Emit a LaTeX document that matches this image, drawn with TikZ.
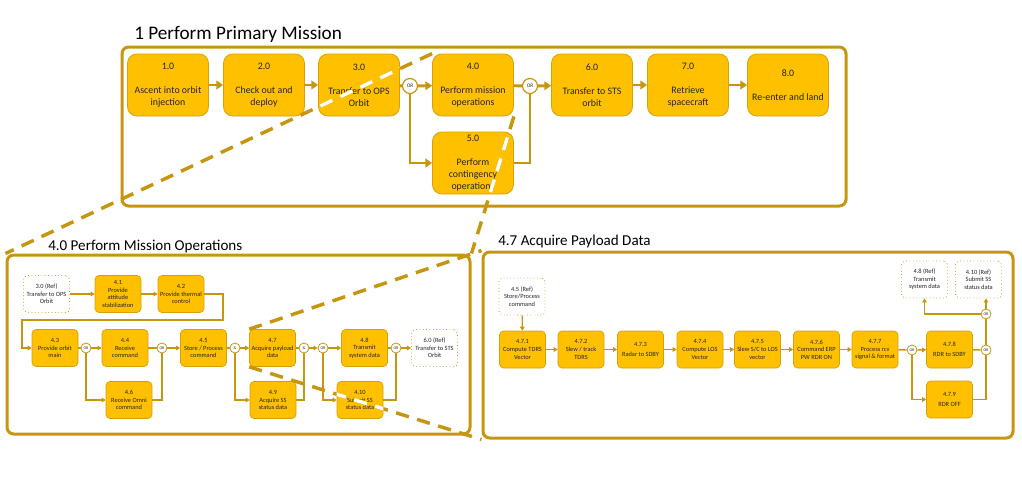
\documentclass[tikz,border=0pt]{standalone}
\usepackage{fontspec}
\setmainfont{Carlito}
\usetikzlibrary{arrows.meta,calc}
\definecolor{boxfill}{RGB}{255,192,0}
\definecolor{boxline}{RGB}{214,160,10}
\definecolor{goldline}{RGB}{199,150,16}
\definecolor{txt}{RGB}{38,38,38}
\begin{document}
\begin{tikzpicture}[x=0.75pt,y=-0.75pt,
  frm/.style={draw=goldline, line width=2.25pt, rounded corners=5pt, inner sep=0pt, minimum width=#1},
  tb/.style={draw=boxline, line width=0.6pt, fill=boxfill, rounded corners=7pt, minimum width=60.75pt, minimum height=46.5pt, align=center, inner sep=1pt, text=txt, font=\fontsize{7.4}{9}\selectfont},
  lb/.style={draw=boxline, line width=0.5pt, fill=boxfill, rounded corners=3pt, minimum width=34.5pt, minimum height=27.75pt, align=center, inner sep=0.5pt, text=txt, font=\fontsize{4.8}{5.7}\selectfont},
  rb/.style={lb, fill=white, draw=goldline, dotted, line width=0.7pt},
  tc/.style={circle, draw=goldline, fill=white, line width=0.9pt, minimum size=11.25pt, inner sep=0pt, text=txt, font=\fontsize{4}{4}\selectfont},
  lc/.style={circle, draw=goldline, fill=white, line width=0.6pt, minimum size=7.5pt, inner sep=0pt, text=txt, font=\fontsize{3}{3}\selectfont},
  ta/.style={draw=goldline, line width=2.2pt, -{Triangle[length=5pt,width=6.5pt]}},
  tl/.style={draw=goldline, line width=2.2pt},
  la/.style={draw=goldline, line width=1pt, -{Triangle[length=3pt,width=3.5pt]}},
  ll/.style={draw=goldline, line width=1pt},
  dl/.style={draw=goldline, line width=2.6pt, dash pattern=on 10pt off 6.5pt},
  dw/.style={dl, draw=white},
  ttl/.style={anchor=base west, inner sep=0pt, text=black}
]
\useasboundingbox (0,0) rectangle (1022,479);

% titles
\node[ttl, font=\fontsize{14.4}{16}\selectfont] (t1) at (134,39) {1 Perform Primary Mission};
\node[ttl, font=\fontsize{11.3}{13}\selectfont] (t2) at (48,250) {4.0 Perform Mission Operations};
\node[ttl, font=\fontsize{11.3}{13}\selectfont] (t3) at (498,245) {4.7 Acquire Payload Data};

% frames
\node[frm=543pt, minimum height=119.25pt] (F1) at (484,126.5) {};
\node[frm=347.25pt, minimum height=134.25pt] (F2) at (238.5,344.5) {};
\node[frm=397.5pt, minimum height=139.5pt] (F3) at (748,345) {};

% ---------- top level ----------
\node[tb] (n10) at (168,85) {1.0\\[9pt]Ascent into orbit\\injection};
\node[tb] (n20) at (264,85) {2.0\\[9pt]Check out and\\deploy};
\node[tb] (n30) at (359,85) {3.0\\[9pt]Transfer to OPS\\Orbit};
\node[tc] (o1) at (410,86) {OR};
\node[tb] (n40) at (473,85) {4.0\\[9pt]Perform mission\\operations};
\node[tc] (o2) at (530,86) {OR};
\node[tb] (n60) at (592,85) {6.0\\[9pt]Transfer to STS\\orbit};
\node[tb] (n70) at (688,85) {7.0\\[9pt]Retrieve\\spacecraft};
\node[tb] (n80) at (788,85) {8.0\\[9pt]Re-enter and land};
\node[tb] (n50) at (473,163) {5.0\\[9pt]Perform\\contingency\\operations};

\draw[ta] (n10) -- (n20);
\draw[ta] (n20) -- (n30);
\draw[tl] (n30) -- (o1);
\draw[ta] (o1) -- (n40);
\draw[tl] (n40) -- (o2);
\draw[ta] (o2) -- (n60);
\draw[ta] (n60) -- (n70);
\draw[ta] (n70) -- (n80);
\draw[ta] (o1.south) |- (n50.west);
\draw[tl] (n50.east) -| (o2.south);

% ---------- 4.0 decomposition ----------
\node[rb] (r30) at (46.5,294) {3.0 (Ref)\\Transfer to OPS\\Orbit};
\node[lb] (n41) at (118,294) {4.1\\Provide\\attitude\\stabilization};
\node[lb] (n42) at (181,294) {4.2\\Provide thermal\\control};
\node[lb] (n43) at (55,348) {4.3\\Provide orbit\\main};
\node[lc] (c1) at (86,348) {OR};
\node[lb] (n44) at (125,348) {4.4\\Receive\\command};
\node[lc] (c2) at (162,348) {OR};
\node[lb] (n45) at (203.5,348) {4.5\\Store / Process\\command};
\node[lc] (c3) at (235,348) {\&};
\node[lb] (n47) at (272.5,348) {4.7\\Acquire payload\\data};
\node[lc] (c4) at (304,348) {\&};
\node[lc] (c5) at (323,348) {OR};
\node[lb] (n48) at (364.5,348) {4.8\\Transmit\\system data};
\node[lc] (c6) at (396,348) {OR};
\node[rb] (r60) at (434.5,348) {6.0 (Ref)\\Transfer to STS\\Orbit};
\node[lb] (n46) at (129,400) {4.6\\Receive Omni\\command};
\node[lb] (n49) at (273,400) {4.9\\Acquire SS\\status data};
\node[lb] (n410) at (360,400) {4.10\\Submit SS\\status data};

\coordinate (w1) at (223,320);
\coordinate (w2) at (22,320);
\draw[la] (r30) -- (n41);
\draw[la] (n41) -- (n42);
\draw[la] (n42.east) -| (w1) -- (w2) |- (n43.west);
\draw[ll] (n43) -- (c1);
\draw[la] (c1) -- (n44);
\draw[ll] (n44) -- (c2);
\draw[la] (c2) -- (n45);
\draw[ll] (n45) -- (c3);
\draw[la] (c3) -- (n47);
\draw[ll] (n47) -- (c4);
\draw[la] (c4) -- (c5);
\draw[la] (c5) -- (n48);
\draw[ll] (n48) -- (c6);
\draw[la] (c6) -- (r60);
\draw[la] (c1.south) |- (n46.west);
\draw[ll] (n46.east) -| (c2.south);
\draw[la] (c3.south) |- (n49.west);
\draw[ll] (n49.east) -| (c4.south);
\draw[la] (c5.south) |- (n410.west);
\draw[ll] (n410.east) -| (c6.south);

% ---------- 4.7 decomposition ----------
\node[rb] (r45) at (522,296.5) {4.5 (Ref)\\Store/Process\\command};
\node[lb] (m1) at (522.5,349.5) {4.7.1\\Compute TDRS\\Vector};
\node[lb] (m2) at (581,349.5) {4.7.2\\Slew / track\\TDRS};
\node[lb] (m3) at (640.5,349.5) {4.7.3\\[1.5pt]Radar to SDBY};
\node[lb] (m4) at (700,349.5) {4.7.4\\Compute LOS\\Vector};
\node[lb] (m5) at (757.5,349.5) {4.7.5\\Slew S/C to LOS\\vector};
\node[lb] (m6) at (816.5,349.5) {4.7.6\\Command ERP\\PW RDR ON};
\node[lb] (m7) at (875,349.5) {4.7.7\\Process rcv\\signal \& format};
\node[lc] (cA) at (912,350) {OR};
\node[lb] (m8) at (949.5,349.5) {4.7.8\\[1.5pt]RDR to SDBY};
\node[lc] (cB) at (986,350) {OR};
\node[lb] (m9) at (949.5,399.5) {4.7.9\\[1.5pt]RDR OFF};
\node[lc] (cC) at (986,314) {OR};
\node[rb] (r48) at (924.5,279.5) {4.8 (Ref)\\Transmit\\system data};
\node[rb] (r410) at (978.5,279.5) {4.10 (Ref)\\Submit SS\\status data};

\draw[la] (r45) -- (m1);
\draw[la] (m1) -- (m2);
\draw[la] (m2) -- (m3);
\draw[la] (m3) -- (m4);
\draw[la] (m4) -- (m5);
\draw[la] (m5) -- (m6);
\draw[la] (m6) -- (m7);
\draw[ll] (m7) -- (cA);
\draw[la] (cA) -- (m8);
\draw[ll] (m8) -- (cB);
\draw[la] (cA.south) |- (m9.west);
\draw[ll] (m9.east) -| (cB.south);
\draw[ll] (cB) -- (cC);
\draw[la] (cC.north) -- (cC.north |- r410.south);
\draw[la] (cC.west) -| (r48.south);

% ---------- zoom (dashed) lines ----------
\draw[dl] (n40.north west) -- (F2.north west);
\draw[dl] (n40.south east) -- (F2.north east);
\draw[dl] (n47.north west) -- (F3.north west);
\draw[dl] (n47.south west) -- (F3.south west);
\begin{scope}
  \clip[rounded corners=7pt] (n30.south west) rectangle (n30.north east);
  \draw[dw] (n40.north west) -- (F2.north west);
\end{scope}
\begin{scope}
  \clip[rounded corners=7pt] (n50.south west) rectangle (n50.north east);
  \draw[dw] (n40.south east) -- (F2.north east);
\end{scope}
\begin{scope}
  \clip[rounded corners=3pt] (n410.south west) rectangle (n410.north east);
  \draw[dw] (n47.south west) -- (F3.south west);
\end{scope}
\end{tikzpicture}
\end{document}
